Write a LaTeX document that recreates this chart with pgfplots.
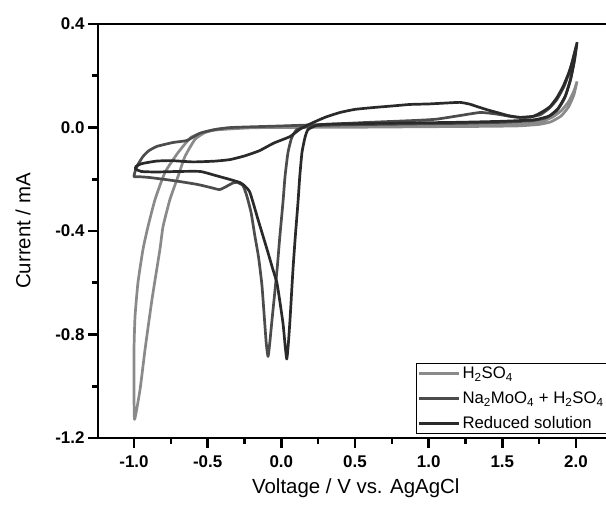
\documentclass[border=0pt]{standalone}
\usepackage{fontspec}
\setmainfont{Liberation Sans}
\usepackage{pgfplots}
\pgfplotsset{compat=1.18}
\definecolor{cA}{HTML}{8A8A8A}
\definecolor{cB}{HTML}{4C4C4C}
\definecolor{cC}{HTML}{2A2A2A}
\begin{document}
\begin{tikzpicture}[x=1bp,y=1bp]
\useasboundingbox (0,0) rectangle (606,505);
\begin{axis}[
  at={(98bp,67bp)}, anchor=south west,
  scale only axis, width=512bp, height=414bp,
  xmin=-1.2443, xmax=2.2308, ymin=-1.2, ymax=0.4,
  axis x line*=box, axis y line*=left,
  axis line style={line width=2.8bp, black},
  xtick={-1,-0.5,0,0.5,1,1.5,2},
  xticklabels={-1.0,-0.5,0.0,0.5,1.0,1.5,2.0},
  ytick={-1.2,-0.8,-0.4,0,0.4},
  yticklabels={-1.2,-0.8,-0.4,0.0,0.4},
  minor x tick num=1, minor y tick num=1,
  tick align=outside, xtick pos=bottom, ytick pos=left,
  major tick length=10bp, minor tick length=6bp,
  every tick/.style={black, line width=2.6bp},
  ticklabel style={font=\fontsize{17}{20}\selectfont\bfseries},
  xticklabel style={yshift=-4bp},
  xlabel={Voltage / V vs. AgAgCl},
  ylabel={Current / mA},
  label style={font=\fontsize{20.5}{24}\selectfont},
  xlabel style={at={(rel axis cs:0,0)}, anchor=east, xshift=365bp, yshift=-50bp},
  ylabel style={at={(rel axis cs:0,0.5)}, anchor=center, yshift=75bp},
  legend style={at={(rel axis cs:0.621,0.0097)}, anchor=south west,
    draw=black, line width=0.9bp, font=\fontsize{16.8}{20}\selectfont,
    inner sep=1.5bp, row sep=7.5bp},
  legend cell align=left,
  legend image code/.code={\draw[#1, line width=2.6bp] (0bp,0bp) -- (40bp,0bp);},
  every axis plot/.append style={line width=2.7bp, line join=round, smooth, tension=0.3},
]
\addplot[cA] coordinates {
(2.007,0.178)(1.985,0.125)(1.95,0.08)(1.9,0.045)(1.83,0.022)(1.75,0.012)(1.6,0.006)(1.3,0.004)(1.0,0.003)(0.5,0.001)(0.0,0.0)(-0.34,-0.002)(-0.45,-0.008)(-0.52,-0.018)(-0.613,-0.038)(-0.701,-0.097)(-0.79,-0.174)(-0.857,-0.278)(-0.905,-0.383)(-0.939,-0.471)(-0.973,-0.599)(-0.993,-0.73)(-1.0,-0.858)(-1.0,-1.013)(-0.996,-1.128)(-0.959,-1.013)(-0.925,-0.858)(-0.878,-0.665)(-0.824,-0.471)(-0.803,-0.383)(-0.756,-0.278)(-0.701,-0.189)(-0.654,-0.112)(-0.586,-0.046)(-0.52,-0.02)(-0.45,-0.01)(-0.3,-0.004)(0.0,0.004)(0.5,0.008)(1.0,0.01)(1.4,0.011)(1.65,0.014)(1.76,0.022)(1.84,0.04)(1.9,0.065)(1.95,0.1)(1.985,0.14)(2.007,0.178)
};
\addlegendentry{H\textsubscript{2}SO\textsubscript{4}}
\addplot[cB] coordinates {
(2.005,0.32)(1.985,0.25)(1.96,0.18)(1.92,0.11)(1.87,0.065)(1.8,0.038)(1.7,0.026)(1.5,0.02)(1.2,0.016)(0.8,0.013)(0.4,0.01)(0.2,0.006)(0.106,-0.008)(0.07,-0.04)(0.045,-0.097)(0.025,-0.19)(0.011,-0.29)(-0.01,-0.42)(-0.029,-0.549)(-0.063,-0.742)(-0.078,-0.83)(-0.09,-0.885)(-0.103,-0.83)(-0.131,-0.614)(-0.155,-0.5)(-0.179,-0.421)(-0.205,-0.33)(-0.233,-0.267)(-0.26,-0.225)(-0.3,-0.212)(-0.33,-0.215)(-0.38,-0.23)(-0.42,-0.24)(-0.48,-0.232)(-0.57,-0.22)(-0.7,-0.208)(-0.8,-0.2)(-0.9,-0.193)(-0.97,-0.19)(-1.0,-0.19)(-0.99,-0.165)(-0.973,-0.143)(-0.939,-0.112)(-0.9,-0.09)(-0.844,-0.073)(-0.735,-0.058)(-0.64,-0.05)(-0.552,-0.022)(-0.45,-0.008)(-0.34,0.0)(0.0,0.006)(0.3,0.012)(0.6,0.02)(0.9,0.027)(1.05,0.032)(1.2,0.045)(1.35,0.058)(1.46,0.052)(1.55,0.043)(1.62,0.039)(1.7,0.042)(1.76,0.05)(1.82,0.075)(1.87,0.108)(1.92,0.16)(1.96,0.224)(1.99,0.29)(2.005,0.32)
};
\addlegendentry{Na\textsubscript{2}MoO\textsubscript{4} + H\textsubscript{2}SO\textsubscript{4}}
\addplot[cC] coordinates {
(2.007,0.33)(1.99,0.26)(1.965,0.19)(1.93,0.125)(1.88,0.075)(1.82,0.045)(1.72,0.03)(1.5,0.024)(1.2,0.02)(0.8,0.017)(0.4,0.014)(0.25,0.01)(0.181,-0.008)(0.16,-0.04)(0.14,-0.097)(0.125,-0.19)(0.113,-0.29)(0.095,-0.42)(0.079,-0.549)(0.059,-0.742)(0.047,-0.84)(0.037,-0.895)(0.027,-0.85)(0.012,-0.76)(-0.009,-0.676)(-0.03,-0.6)(-0.057,-0.549)(-0.097,-0.471)(-0.158,-0.356)(-0.213,-0.251)(-0.25,-0.225)(-0.28,-0.213)(-0.348,-0.201)(-0.45,-0.185)(-0.55,-0.17)(-0.7,-0.17)(-0.85,-0.172)(-0.95,-0.17)(-0.99,-0.16)(-0.985,-0.15)(-0.95,-0.14)(-0.85,-0.13)(-0.75,-0.128)(-0.6,-0.133)(-0.45,-0.13)(-0.348,-0.124)(-0.25,-0.11)(-0.15,-0.09)(-0.05,-0.06)(0.059,-0.035)(0.13,-0.005)(0.215,0.019)(0.3,0.04)(0.398,0.058)(0.5,0.07)(0.622,0.077)(0.75,0.083)(0.873,0.089)(1.0,0.091)(1.1,0.094)(1.213,0.097)(1.28,0.09)(1.328,0.081)(1.4,0.068)(1.464,0.058)(1.54,0.046)(1.62,0.039)(1.708,0.043)(1.77,0.06)(1.824,0.081)(1.87,0.115)(1.912,0.158)(1.95,0.21)(1.98,0.263)(2.007,0.328)
};
\addlegendentry{Reduced solution}
\end{axis}
\end{tikzpicture}
\end{document}
